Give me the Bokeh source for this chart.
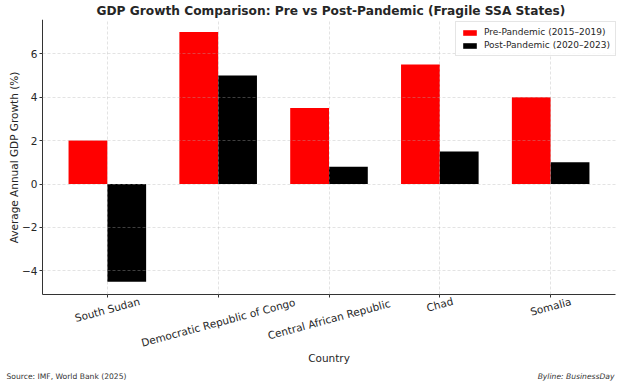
import math
from bokeh.plotting import figure
from bokeh.models import ColumnDataSource, Range1d, FixedTicker, Label, Legend, LegendItem
from bokeh.transform import dodge
from bokeh.embed import file_html
from bokeh.resources import INLINE

categories = ["South Sudan", "Democratic Republic of Congo", "Central African Republic", "Chad", "Somalia"]
pre_pandemic = [2.0, 7.0, 3.5, 5.5, 4.0]
post_pandemic = [-4.5, 5.0, 0.8, 1.5, 1.0]
y_ticks = [-4, -2, 0, 2, 4, 6]

idx = list(range(len(categories)))
src = ColumnDataSource(dict(idx=idx, pre=pre_pandemic, post=post_pandemic))

FONT = "DejaVu Sans"
TXT = "#262626"
W, H = 624, 387
TOP, AXIS_Y = 20, 294           # px: frame top and bottom spine
LEFT_AX, RIGHT_AX = 42, 615     # px: left spine and end of bottom spine
Y_LO, Y_HI = -5.075, 7.575      # value range between the spines
X_LO, X_HI = -0.585, 4.585
ppu = (AXIS_Y - TOP) / (Y_HI - Y_LO)
ppx = (RIGHT_AX - LEFT_AX) / (X_HI - X_LO)
y_start = Y_LO - (H - AXIS_Y) / ppu
x_start = X_LO - LEFT_AX / ppx
x_end = X_HI + (W - RIGHT_AX) / ppx

p = figure(width=W, height=H, output_backend="svg", toolbar_location=None,
           x_range=Range1d(x_start, x_end), y_range=Range1d(y_start, Y_HI),
           min_border_left=0, min_border_right=0, min_border_top=0, min_border_bottom=0)

p.title.text = "GDP Growth Comparison: Pre vs Post-Pandemic (Fragile SSA States)"
p.title.align = "left"
p.title.text_font = FONT
p.title.text_font_size = "12.2px"
p.title.text_font_style = "bold"
p.title.text_color = TXT
p.title.standoff = 3
p.title.offset = 96

r1 = p.vbar(x=dodge("idx", -0.175, range=p.x_range), top="pre", bottom=0, width=0.35,
            source=src, fill_color="#ff0000", line_color=None)
r2 = p.vbar(x=dodge("idx", 0.175, range=p.x_range), top="post", bottom=0, width=0.35,
            source=src, fill_color="#000000", line_color=None)

# axes (fixed spines, labels drawn as annotations so they sit like the original)
p.xaxis.fixed_location = Y_LO
p.xaxis.bounds = (X_LO, X_HI)
p.xaxis.ticker = FixedTicker(ticks=idx)
p.xaxis.major_label_text_color = None
p.xaxis.major_label_text_font_size = "1px"
p.yaxis.fixed_location = X_LO
p.yaxis.bounds = (Y_LO, Y_HI)
p.yaxis.ticker = FixedTicker(ticks=y_ticks)
p.yaxis.major_label_overrides = {t: (str(t).replace("-", "\u2212")) for t in y_ticks}

for ax in (p.xaxis[0], p.yaxis[0]):
    ax.axis_line_color = "#333333"
    ax.axis_line_width = 1
    ax.major_tick_line_color = "#333333"
    ax.major_tick_in = 0
    ax.major_tick_out = 3
    ax.minor_tick_line_color = None

p.yaxis.major_label_text_font = FONT
p.yaxis.major_label_text_font_size = "10.5px"
p.yaxis.major_label_text_color = TXT
p.yaxis.major_label_standoff = 2

p.outline_line_color = None
for g in (p.xgrid[0], p.ygrid[0]):
    g.grid_line_color = "#b0b0b0"
    g.grid_line_dash = "3 2"
    g.grid_line_alpha = 0.45
    g.grid_line_width = 0.8
    g.level = "annotation"
if hasattr(p.xgrid[0], "cross_bounds"):
    p.xgrid[0].cross_bounds = (Y_LO, Y_HI)
    p.ygrid[0].cross_bounds = (X_LO, X_HI)

legend = Legend(items=[LegendItem(label="Pre-Pandemic (2015\u20132019)", renderers=[r1]),
                       LegendItem(label="Post-Pandemic (2020\u20132023)", renderers=[r2])],
                location=(455, H - 56))
legend.label_text_font = FONT
legend.label_text_font_size = "9px"
legend.label_text_color = TXT
legend.glyph_width = 17
legend.glyph_height = 7
legend.label_height = 10
legend.spacing = 3
legend.padding = 5
legend.margin = 0
legend.border_line_color = "#cccccc"
legend.border_line_width = 1
legend.background_fill_alpha = 0.85
legend.label_standoff = 6
p.add_layout(legend)

# rotated category labels, centred under each tick (matplotlib rotation=15 style)
ANG = math.radians(15)
FS = 10.5
for i, name in zip(idx, categories):
    L = len(name) * 0.55 * FS
    cy = AXIS_Y + 1 + (L / 2) * math.sin(ANG) + 6 * math.cos(ANG)
    p.add_layout(Label(x=i, y=cy, x_units="data", y_units="canvas", text=name,
                       angle=ANG, text_align="center", text_baseline="middle",
                       text_font=FONT, text_font_size=f"{FS}px", text_color=TXT))

p.add_layout(Label(x=(LEFT_AX + RIGHT_AX) / 2, y=357, x_units="canvas", y_units="canvas",
                   text="Country", text_align="center", text_baseline="middle",
                   text_font=FONT, text_font_size="10.5px", text_color=TXT))
p.add_layout(Label(x=13, y=(TOP + AXIS_Y) / 2, x_units="canvas", y_units="canvas",
                   text="Average Annual GDP Growth (%)", angle=math.pi / 2,
                   text_align="center", text_baseline="middle",
                   text_font=FONT, text_font_size="10.5px", text_color=TXT))
p.add_layout(Label(x=6, y=376, x_units="canvas", y_units="canvas",
                   text="Source: IMF, World Bank (2025)", text_font=FONT,
                   text_font_size="7.6px", text_color="#333333", text_baseline="middle"))
p.add_layout(Label(x=614, y=376, x_units="canvas", y_units="canvas",
                   text="Byline: BusinessDay", text_font=FONT, text_align="right",
                   text_font_size="7.6px", text_font_style="italic", text_color="#333333",
                   text_baseline="middle"))

open("out.html", "w").write(file_html(p, INLINE))
